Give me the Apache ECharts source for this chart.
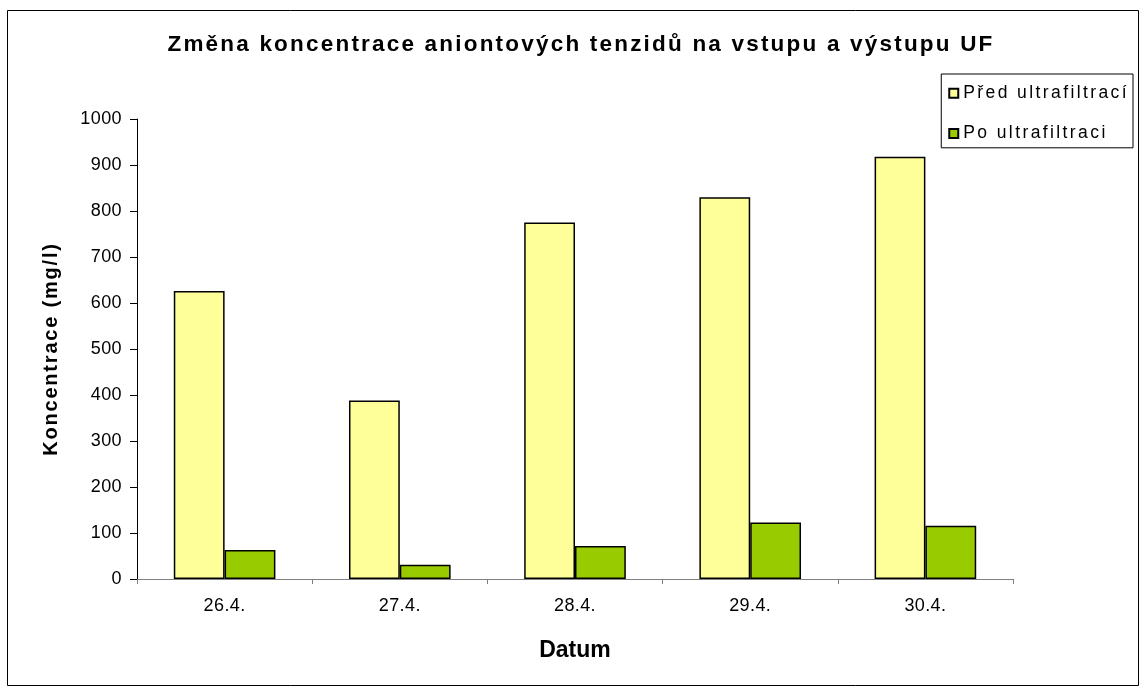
<!DOCTYPE html>
<html><head><meta charset="utf-8">
<script src="https://cdn.jsdelivr.net/npm/echarts@6/dist/echarts.min.js"></script>
<style>html,body{margin:0;padding:0;background:#fff}#c{width:1141px;height:688px}</style>
</head><body><div id="c"></div>
<script>
const categories = ['26.4.', '27.4.', '28.4.', '29.4.', '30.4.'];
const predUltrafiltraci = [626, 388, 775, 830, 918];
const poUltrafiltraci = [63, 31, 72, 123, 116];
const yTicks = [0, 100, 200, 300, 400, 500, 600, 700, 800, 900, 1000];
const seriesNames = ['Před ultrafiltrací', 'Po ultrafiltraci'];
const titleText = 'Změna koncentrace aniontových tenzidů na vstupu a výstupu UF';

// Excel-like widened letter spacing for some text sizes (canvas letterSpacing)
(function () {
  const proto = CanvasRenderingContext2D.prototype;
  const d = Object.getOwnPropertyDescriptor(proto, 'font');
  if (!d || !('letterSpacing' in proto)) return;
  const SPACING = {'22.5': '2.2px', '17.5': '2.4px', '20': '1.8px', '18': '0.4px'};
  Object.defineProperty(proto, 'font', {
    configurable: true, enumerable: d.enumerable,
    get() { return d.get.call(this); },
    set(v) {
      d.set.call(this, v);
      const m = /([\d.]+)px/.exec(v);
      this.letterSpacing = (m && SPACING[m[1]]) || '0px';
    }
  });
})();

const FONT = '"Liberation Sans", Arial, sans-serif';
const chart = echarts.init(document.getElementById('c'), null, {renderer: 'canvas'});
chart.setOption({
  animation: false,
  backgroundColor: '#fff',
  graphic: [
    {type: 'rect', shape: {x: 7.5, y: 10.5, width: 1131, height: 675},
     style: {fill: 'none', stroke: '#000', lineWidth: 1}, z: -1},
    {type: 'text', x: 581, y: 45,
     style: {text: titleText, textAlign: 'center', textVerticalAlign: 'middle',
             font: 'bold 22.5px ' + FONT, fill: '#000'}}
  ],
  legend: {
    orient: 'vertical', right: 8, top: 74,
    data: seriesNames,
    itemWidth: 9, itemHeight: 9, itemGap: 20,
    padding: [9, 4, 4, 7],
    borderColor: '#000', borderWidth: 1,
    textStyle: {fontFamily: FONT, fontSize: 17.5, color: '#000'},
    icon: 'rect'
  },
  grid: {left: 137, right: 128, top: 119, bottom: 109},
  xAxis: {
    type: 'category', data: categories,
    name: 'Datum', nameLocation: 'middle', nameGap: 60,
    nameTextStyle: {fontFamily: FONT, fontSize: 23, fontWeight: 'bold', color: '#000'},
    axisLine: {lineStyle: {color: '#808080', width: 1}},
    axisTick: {show: true, length: 5, lineStyle: {color: '#808080'}},
    axisLabel: {fontFamily: FONT, fontSize: 18, color: '#000', margin: 18}
  },
  yAxis: {
    type: 'value', min: yTicks[0], max: yTicks[yTicks.length - 1], interval: 100,
    name: 'Koncentrace (mg/l)', nameLocation: 'middle', nameGap: 75, nameRotate: 90,
    nameTextStyle: {fontFamily: FONT, fontSize: 20, fontWeight: 'bold', color: '#000'},
    axisLine: {show: true, lineStyle: {color: '#000', width: 1}},
    axisTick: {show: true, length: 7, lineStyle: {color: '#000'}},
    axisLabel: {fontFamily: FONT, fontSize: 18, color: '#000', margin: 15,
                formatter: v => String(v)},
    splitLine: {show: false}
  },
  series: [
    {name: seriesNames[0], type: 'bar', data: predUltrafiltraci, barGap: '0%', barCategoryGap: '42%',
     itemStyle: {color: '#FFFF99', borderColor: '#000', borderWidth: 1.5}},
    {name: seriesNames[1], type: 'bar', data: poUltrafiltraci,
     itemStyle: {color: '#99CC00', borderColor: '#000', borderWidth: 1.5}}
  ]
});
</script></body></html>
